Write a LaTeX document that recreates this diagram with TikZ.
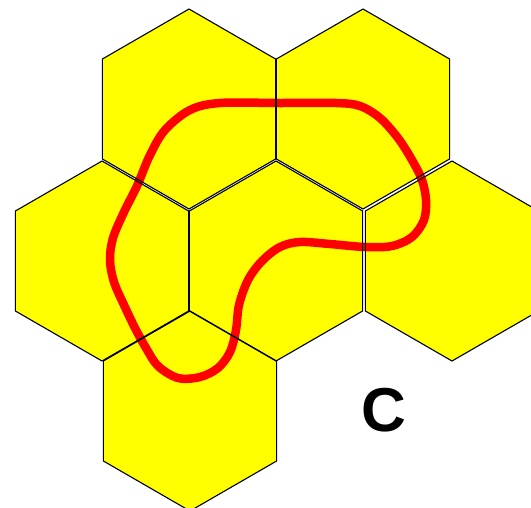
\documentclass[tikz,border=0pt]{standalone}
\usepackage{fontspec}
\setmainfont{Liberation Sans}
\definecolor{hexyellow}{RGB}{255,255,0}
\definecolor{loopred}{RGB}{255,0,0}
\tikzset{
  hexfill/.style={fill=hexyellow},
  hexline/.style={draw=black, line width=1.1pt, line join=miter},
  seamline/.style={draw=black, line width=2.4pt},
  loopline/.style={draw=loopred, line width=8.5pt},
}
\newcommand\hexat[1]{(#1) ++(0,-100) -- ++(86.6,50) -- ++(0,100) -- ++(-86.6,50) -- ++(-86.6,-50) -- ++(0,-100) -- cycle}
\begin{document}
\begin{tikzpicture}[x=1pt,y=-1pt]
\useasboundingbox (0,0) rectangle (531,507);
\clip (0,0) rectangle (531,507);
\coordinate (hA) at (189,109);
\coordinate (hB) at (363,109);
\coordinate (hC) at (102,261);
\coordinate (hD) at (276,261);
\coordinate (hE) at (452,261);
\coordinate (hF) at (190,411);
\foreach \h in {hA,hB,hC,hD,hE,hF}{
  \path[hexfill] \hexat{\h};
}
\draw[loopline] plot[smooth cycle, tension=0.55] coordinates {
 (220,103) (280,103) (336,103) (360,106) (380,118) (398,138) (412,160) (422,180)
 (426,200) (424,220) (412,237) (392,246) (365,247) (330,244) (300,242)
 (280,247) (262,261) (248,280) (239,305) (236,330) (230,352) (218,368)
 (200,377) (178,378) (158,366) (146,348) (135,328) (124,305) (114,282)
 (110,260) (113,238) (124,212) (137,186) (150,155) (165,130)
 (190,110)};
\foreach \h in {hA,hB,hC,hD,hE,hF}{
  \draw[hexline] \hexat{\h};
}
\draw[seamline] ([shift={(87,-50)}]hA) coordinate (sAB1) -- ([shift={(87,50)}]hA) coordinate (sAB2);
\draw[seamline] ([shift={(87,-50)}]hC) coordinate (sCD1) -- ([shift={(87,50)}]hC) coordinate (sCD2);
\node[font=\bfseries\fontsize{62}{62}\selectfont, inner sep=0pt] (lbl) at (384,410) {C};
\end{tikzpicture}
\end{document}
